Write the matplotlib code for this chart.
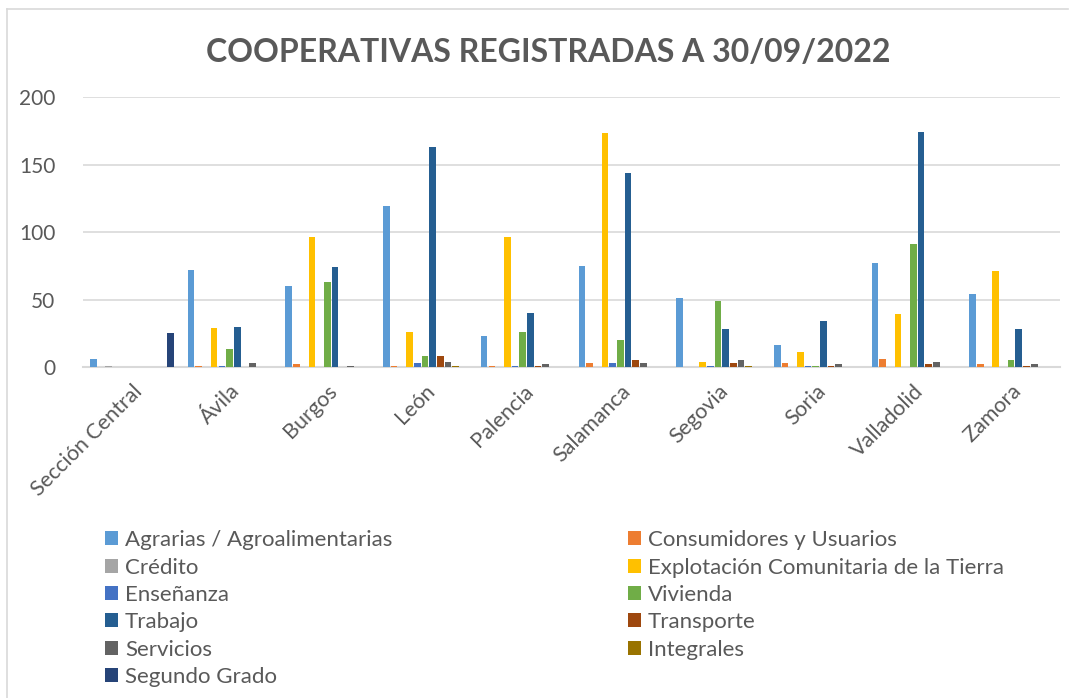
import matplotlib
matplotlib.use('Agg')
import matplotlib.pyplot as plt
import numpy as np
from matplotlib.lines import Line2D

plt.rcParams['font.family'] = ['Lato', 'DejaVu Sans']

provincias = ['Sección Central', 'Ávila', 'Burgos', 'León', 'Palencia',
              'Salamanca', 'Segovia', 'Soria', 'Valladolid', 'Zamora']

series = ['Agrarias / Agroalimentarias', 'Consumidores y Usuarios', 'Crédito',
          'Explotación Comunitaria de la Tierra', 'Enseñanza', 'Vivienda',
          'Trabajo', 'Transporte', 'Servicios', 'Integrales', 'Segundo Grado']

colores = ['#5B9BD5', '#ED7D31', '#A5A5A5', '#FFC000', '#4472C4', '#70AD47',
           '#255E91', '#9E480E', '#636363', '#997300', '#264478']

agrarias      = [6, 72, 60, 119, 23, 75, 51, 16, 77, 54]
consumidores  = [0, 1, 2, 1, 1, 3, 0, 3, 6, 2]
credito       = [1, 0, 0, 0, 0, 0, 0, 0, 0, 0]
explotacion   = [0, 29, 96, 26, 96, 173, 4, 11, 39, 71]
ensenanza     = [0, 1, 0, 3, 1, 3, 1, 1, 0, 0]
vivienda      = [0, 13, 63, 8, 26, 20, 49, 1, 91, 5]
trabajo       = [0, 30, 74, 163, 40, 144, 28, 34, 174, 28]
transporte    = [0, 0, 0, 8, 1, 5, 3, 1, 2, 1]
servicios     = [0, 3, 1, 4, 2, 3, 5, 2, 4, 2]
integrales    = [0, 0, 0, 1, 0, 0, 1, 0, 0, 0]
segundo_grado = [25, 0, 0, 0, 0, 0, 0, 0, 0, 0]

valores = [agrarias, consumidores, credito, explotacion, ensenanza, vivienda,
           trabajo, transporte, servicios, integrales, segundo_grado]

fig = plt.figure(figsize=(10.75, 6.98), dpi=100)
ax = fig.add_axes([0.0772, 0.4742, 0.9088, 0.3868])

x = np.arange(len(provincias))
slot = 0.0788
handles = []
for i, (nombre, vals, col) in enumerate(zip(series, valores, colores)):
    offs = (i - 5) * slot
    b = ax.bar(x + offs, vals, width=slot * 0.86, color=col, label=nombre,
               zorder=3)
    handles.append(b)

ax.set_xlim(-0.5, len(provincias) - 0.5)
ax.set_ylim(0, 200)
ax.set_yticks([0, 50, 100, 150, 200])
ax.yaxis.grid(True, color='#D9D9D9', linewidth=1.2, zorder=0)
ax.set_axisbelow(True)
for s in ['top', 'right', 'left']:
    ax.spines[s].set_visible(False)
ax.spines['bottom'].set_color('#D9D9D9')
ax.spines['bottom'].set_linewidth(1.5)
ax.tick_params(axis='both', length=0, colors='#595959')
ax.tick_params(axis='y', pad=20, labelsize=15)
ax.set_xticks(x)
ax.set_xticklabels(provincias, rotation=45, ha='right', rotation_mode='anchor')
ax.tick_params(axis='x', pad=10, labelsize=15.5)

fig.text(0.51, 0.925, 'COOPERATIVAS REGISTRADAS A 30/09/2022', ha='center',
         va='center', fontsize=23, fontweight='bold', color='#595959')

# legend: row-major order like Excel
orden = [0, 2, 4, 6, 8, 10, 1, 3, 5, 7, 9]
leg = fig.legend([handles[i] for i in orden], [series[i] for i in orden],
                 ncol=2, loc='upper left', bbox_to_anchor=(0.079, 0.269),
                 frameon=False, fontsize=16, handlelength=0.6,
                 handleheight=0.6, handletextpad=0.3, columnspacing=10.6,
                 labelspacing=0.33, labelcolor='#595959')

# chart border (top and left, as in the picture)
fig.add_artist(Line2D([7 / 1075, 1068 / 1075], [1 - 9 / 698, 1 - 9 / 698],
                      transform=fig.transFigure, color='#D9D9D9', lw=1.2))
fig.add_artist(Line2D([7 / 1075, 7 / 1075], [0, 1 - 9 / 698],
                      transform=fig.transFigure, color='#D9D9D9', lw=1.2))

fig.savefig('out.png', dpi=100)
